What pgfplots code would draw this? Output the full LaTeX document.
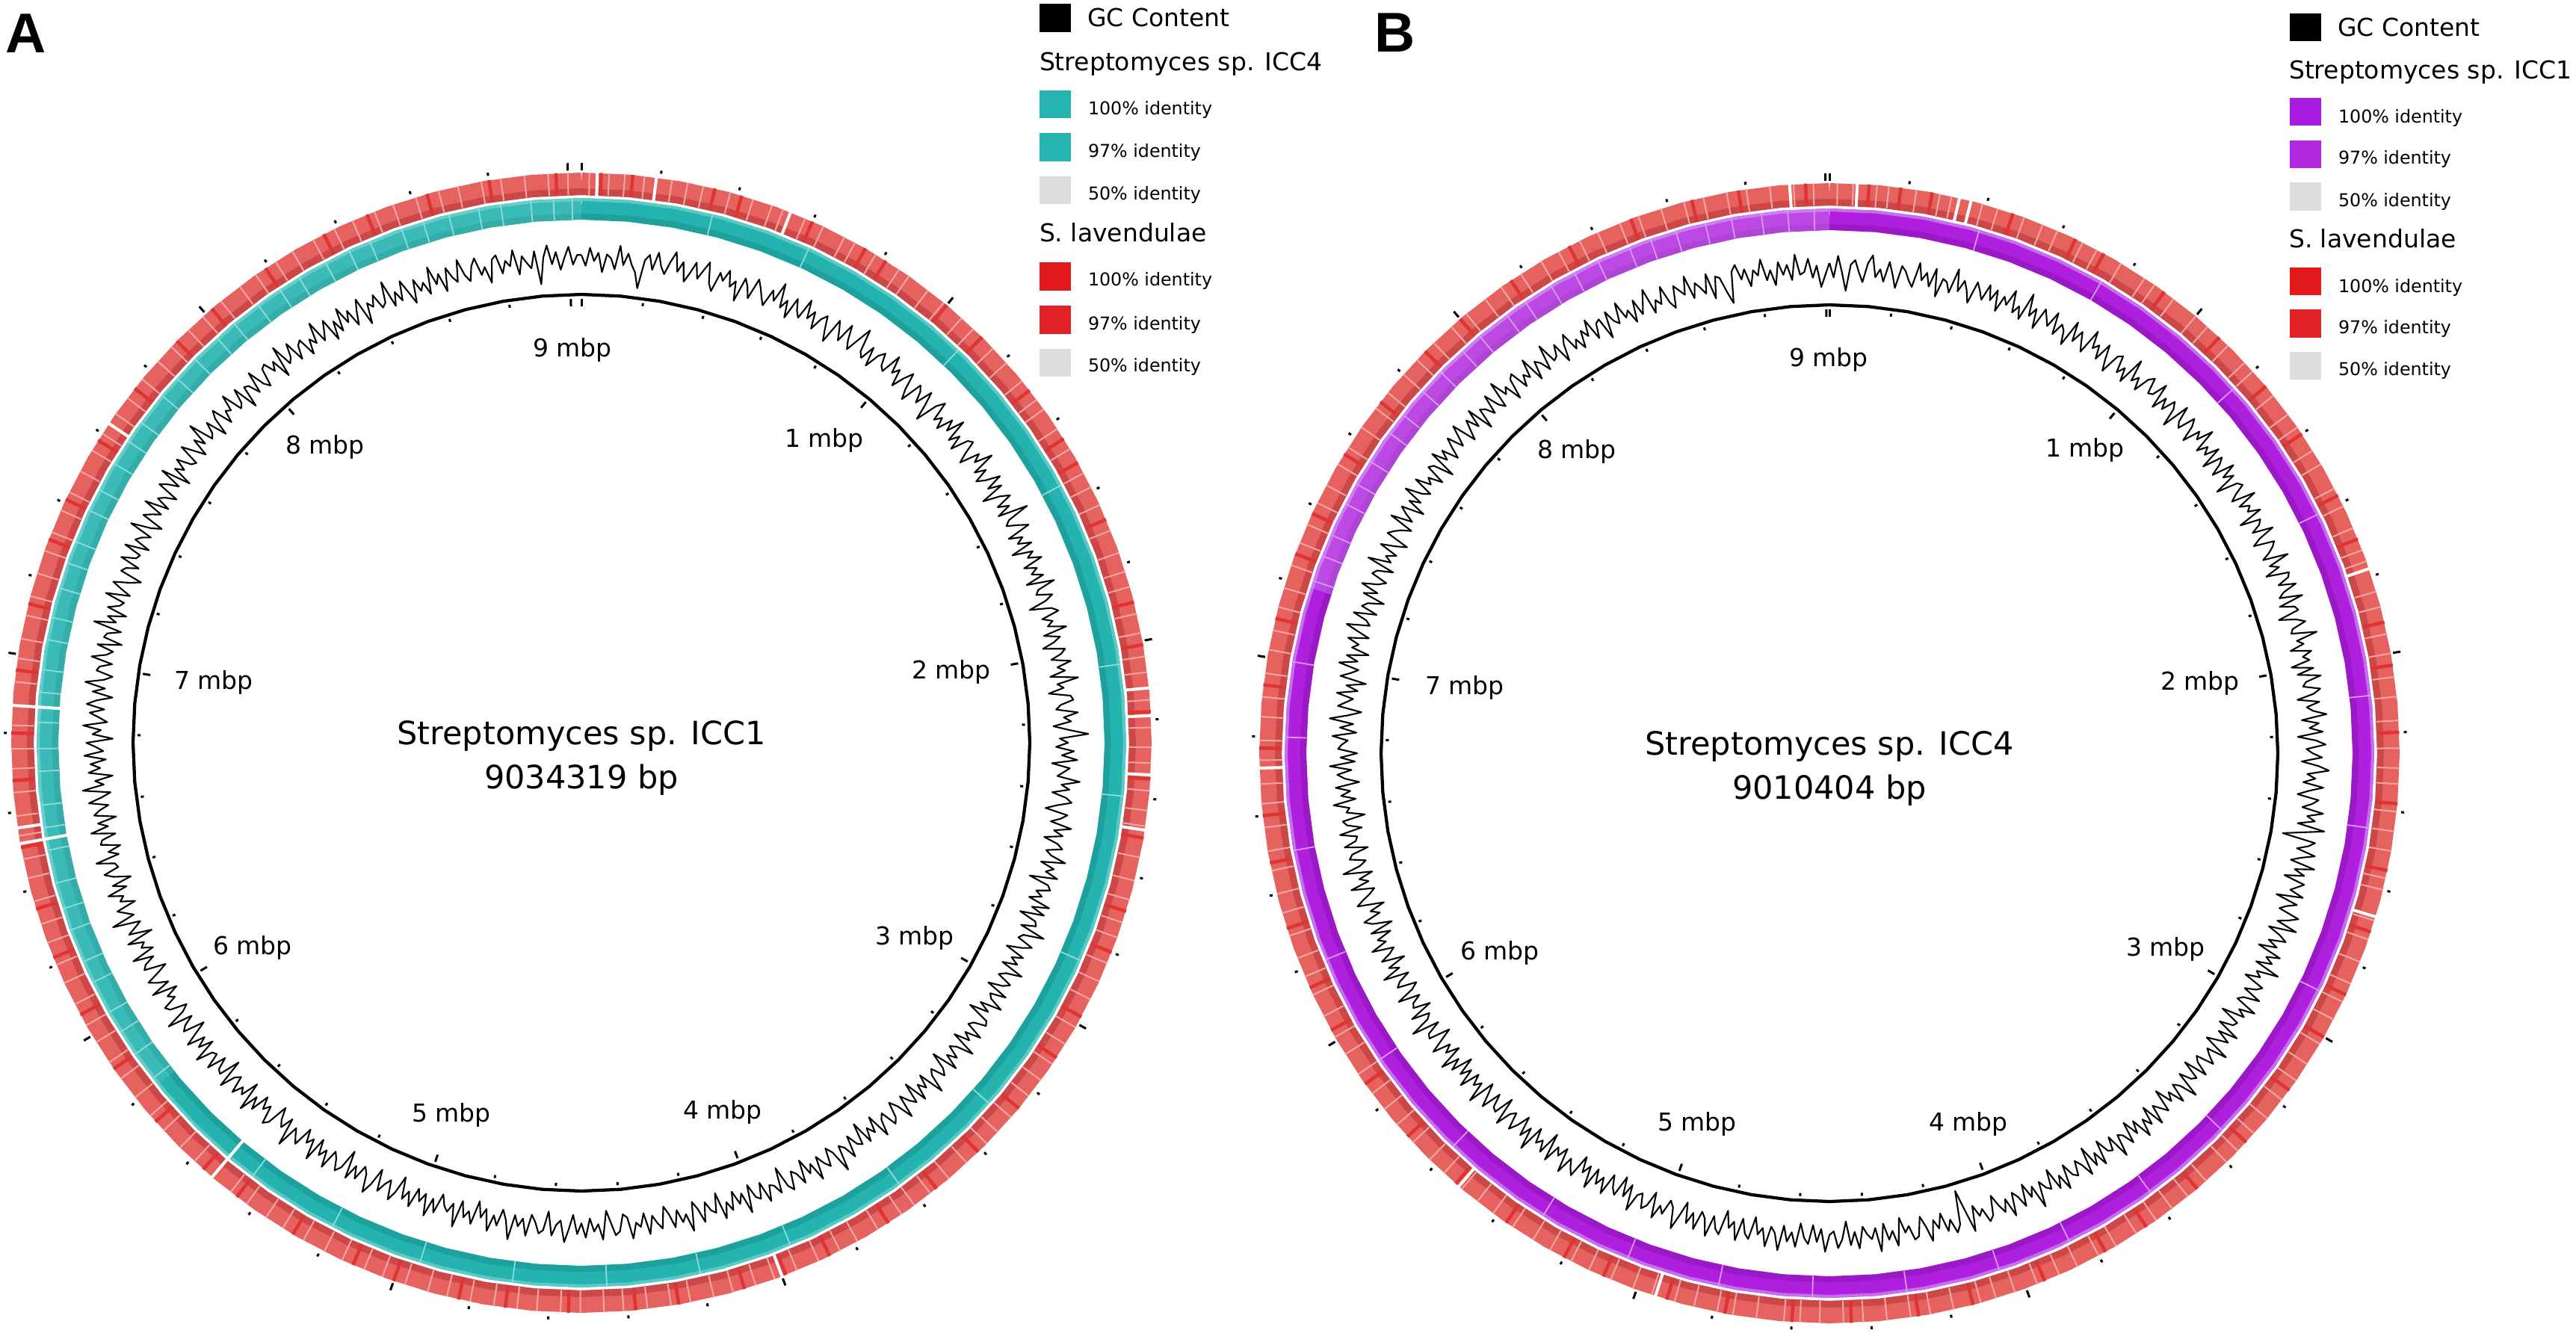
\documentclass[border=0pt]{standalone}
\usepackage{fontspec}
\setmainfont{DejaVu Sans}
\newfontfamily\letterfont{Liberation Sans}
\usepackage{pgfplots}
\usepackage{pgfplotstable}
\pgfplotsset{compat=1.18}

\definecolor{tealA}{HTML}{25B3AF}
\definecolor{tealD}{HTML}{1EA19D}
\definecolor{tealO}{HTML}{5CC9C5}
\definecolor{tealL}{HTML}{8FDDDA}
\definecolor{purA}{HTML}{AE1FDE}
\definecolor{purD}{HTML}{9A18C6}
\definecolor{purO}{HTML}{C76EEE}
\definecolor{purL}{HTML}{D99AF3}
\definecolor{redA}{HTML}{E6625F}
\definecolor{redB}{HTML}{CC4747}
\definecolor{redL}{HTML}{F4A6A5}
\definecolor{redK}{HTML}{DE3434}
\definecolor{legT}{HTML}{25B4B0}
\definecolor{legP1}{HTML}{AA1ADF}
\definecolor{legP2}{HTML}{B128DF}
\definecolor{legR1}{HTML}{E31A1C}
\definecolor{legR2}{HTML}{E22227}
\definecolor{legG}{HTML}{DDDDDD}

\newcommand\fhead{\fontsize{6.6pt}{8pt}\selectfont}
\newcommand\fentry{\fontsize{4.75pt}{6pt}\selectfont}
\newcommand\ftitle{\fontsize{8.6pt}{10pt}\selectfont}
\newcommand\fletter{\letterfont\bfseries\fontsize{15pt}{18pt}\selectfont}

\pgfplotstableread[row sep=\\]{a\\0\\5\\10\\15\\20\\25\\30\\35\\40\\45\\50\\55\\60\\65\\70\\75\\80\\85\\90\\95\\100\\105\\110\\115\\120\\125\\130\\135\\140\\145\\150\\155\\160\\165\\170\\175\\180\\185\\190\\195\\200\\205\\210\\215\\220\\225\\230\\235\\240\\245\\250\\255\\260\\265\\270\\275\\280\\285\\290\\295\\300\\305\\310\\315\\320\\325\\330\\335\\340\\345\\350\\355\\360\\}\angtab

\pgfplotstableread[row sep=\\]{p\\0.2\\0.4\\0.6\\0.8\\1.2\\1.4\\1.6\\1.8\\2.2\\2.4\\2.6\\2.8\\3.2\\3.4\\3.6\\3.8\\4.2\\4.4\\4.6\\4.8\\5.2\\5.4\\5.6\\5.8\\6.2\\6.4\\6.6\\6.8\\7.2\\7.4\\7.6\\7.8\\8.2\\8.4\\8.6\\8.8\\}\minort
\pgfplotstableread[row sep=\\]{p\\0\\1\\2\\3\\4\\5\\6\\7\\8\\9\\}\majort

% ---------- Panel A: GC content deviation, equal windows ----------
\pgfplotstableread[row sep=\\]{g\\
3\\-6\\9\\-2\\5\\-11\\4\\1\\-8\\12\\-4\\6\\-3\\-9\\-22\\2\\7\\-5\\10\\-1\\
-7\\4\\13\\-3\\6\\-10\\-2\\8\\-5\\3\\11\\-6\\-12\\5\\-1\\9\\-4\\2\\-14\\7\\
1\\-8\\10\\4\\-3\\-9\\6\\-2\\15\\-5\\3\\-11\\8\\-1\\-6\\12\\-3\\5\\-9\\2\\
7\\-4\\-13\\9\\2\\-6\\11\\-1\\-8\\4\\16\\-3\\-7\\6\\-10\\3\\8\\-2\\-5\\13\\
-1\\5\\-9\\2\\10\\-4\\-12\\7\\3\\-6\\9\\-2\\-15\\4\\11\\-5\\1\\-8\\6\\-3\\
12\\-7\\2\\-10\\5\\8\\-3\\-11\\6\\-1\\14\\-6\\3\\-9\\-2\\10\\-4\\7\\-13\\1\\
9\\-5\\4\\-8\\17\\-2\\-6\\3\\11\\-9\\2\\-4\\7\\-12\\5\\-1\\10\\-7\\3\\-3\\
6\\-10\\13\\-2\\-5\\8\\1\\-14\\4\\9\\-6\\2\\-3\\12\\-8\\5\\-1\\-11\\7\\3\\
-6\\10\\-2\\4\\-9\\14\\-4\\1\\-12\\6\\8\\-3\\-7\\11\\-1\\5\\-10\\3\\19\\-5\\
2\\-8\\7\\-3\\10\\-11\\4\\-1\\-6\\13\\-2\\5\\-9\\3\\8\\-4\\-13\\6\\1\\-7\\
11\\-3\\5\\-10\\2\\7\\-6\\-1\\12\\-8\\4\\-2\\9\\-14\\3\\6\\-5\\1\\-9\\10\\
-4\\8\\-12\\3\\5\\-7\\15\\-2\\-5\\9\\1\\-11\\6\\-3\\4\\-8\\12\\-1\\-6\\7\\
2\\-10\\9\\-4\\-1\\11\\-7\\3\\-13\\6\\8\\-2\\-5\\10\\-3\\4\\-9\\13\\-1\\-6\\
5\\-3\\10\\-12\\2\\7\\-5\\-1\\14\\-8\\3\\-4\\9\\-11\\6\\1\\-7\\12\\-2\\-9\\
4\\8\\-6\\-2\\11\\-10\\3\\-4\\7\\-13\\5\\2\\-8\\10\\-1\\-5\\16\\-3\\-9\\6\\
1\\-7\\12\\-4\\3\\-11\\8\\-2\\-6\\9\\4\\-14\\7\\-1\\-3\\10\\-8\\5\\2\\-10\\
13\\-5\\3\\-9\\6\\-2\\11\\-12\\4\\1\\-7\\9\\-3\\-10\\14\\-1\\5\\-6\\8\\-4\\
-11\\7\\2\\-5\\10\\-8\\3\\-1\\12\\-6\\-9\\5\\8\\-3\\-13\\11\\-2\\4\\-7\\9\\
-3\\6\\-10\\2\\13\\-5\\-1\\8\\-12\\4\\7\\-2\\-8\\10\\-4\\3\\-6\\15\\-1\\-9\\
5\\-3\\11\\-7\\1\\-12\\8\\-2\\4\\-9\\14\\-5\\3\\-1\\-10\\7\\-4\\12\\-6\\2\\
-8\\9\\-3\\5\\-13\\2\\10\\-6\\-1\\7\\-11\\4\\13\\-2\\-7\\6\\-4\\9\\-14\\3\\
8\\-1\\-6\\11\\-3\\4\\-9\\12\\-5\\1\\-10\\7\\2\\-4\\15\\-8\\3\\-2\\-12\\6\\
10\\-5\\1\\-9\\7\\-3\\13\\-11\\4\\-1\\8\\-6\\-2\\11\\-13\\5\\3\\-7\\9\\-4\\
-2\\12\\-8\\4\\-5\\10\\-1\\-12\\6\\2\\-7\\14\\-3\\-9\\5\\8\\-4\\1\\-10\\11\\
-6\\3\\9\\-2\\-11\\7\\4\\-5\\12\\-8\\1\\-3\\10\\-13\\6\\-1\\-7\\16\\-4\\2\\
8\\-9\\3\\-1\\11\\-6\\5\\-12\\2\\9\\-4\\-2\\13\\-7\\1\\-10\\6\\4\\-8\\12\\
-3\\5\\-11\\7\\2\\-6\\10\\-1\\-9\\14\\-4\\3\\-12\\8\\-2\\6\\-7\\11\\-5\\1\\
9\\-13\\4\\-3\\12\\-8\\-1\\7\\-5\\10\\2\\-11\\6\\-4\\13\\-2\\-9\\5\\3\\-7\\
11\\-1\\-6\\8\\-12\\4\\2\\-9\\15\\-3\\5\\-10\\7\\-2\\-5\\12\\-8\\1\\9\\-4\\
-13\\6\\3\\-7\\10\\-2\\-4\\11\\-9\\5\\1\\-6\\14\\-3\\-11\\8\\2\\-5\\12\\-8\\
4\\-1\\-10\\9\\3\\-6\\13\\-12\\5\\-2\\8\\-4\\-7\\11\\1\\-9\\6\\-3\\16\\-5\\
-2\\7\\-11\\4\\10\\-8\\2\\-1\\12\\-6\\-3\\9\\-13\\5\\3\\-7\\11\\-4\\-9\\6\\
8\\-2\\5\\-12\\14\\-5\\-1\\10\\-8\\3\\6\\-10\\2\\-4\\13\\-6\\1\\9\\-11\\4\\
-7\\12\\-3\\6\\-9\\2\\11\\-13\\4\\-1\\8\\-5\\-2\\15\\-8\\3\\-6\\10\\-1\\-12\\
7\\-4\\2\\-9\\13\\-3\\5\\-11\\8\\-1\\-6\\12\\-2\\-8\\4\\10\\-5\\1\\-13\\6\\
9\\-7\\3\\-2\\11\\-10\\5\\-1\\-6\\8\\-20\\2\\12\\-4\\6\\-9\\1\\10\\-5\\3\\
3\\}\gcA
\pgfplotstablegetrowsof{\gcA}\edef\nA{\pgfplotsretval}

\pgfplotstableread[row sep=\\]{p\\0.02\\0.07\\0.11\\0.16\\0.23\\0.27\\0.31\\0.38\\0.44\\0.49\\0.52\\0.58\\0.63\\0.69\\0.72\\0.78\\0.85\\0.88\\0.94\\0.99\\1.05\\1.09\\1.16\\1.21\\1.27\\1.33\\1.36\\1.42\\1.48\\1.55\\1.59\\1.64\\1.71\\1.77\\1.82\\1.86\\1.93\\1.98\\2.04\\2.08\\2.15\\2.22\\2.27\\2.31\\2.38\\2.43\\2.47\\2.55\\2.61\\2.66\\2.72\\2.76\\2.83\\2.88\\2.93\\3.01\\3.06\\3.12\\3.17\\3.22\\3.29\\3.34\\3.38\\3.45\\3.51\\3.57\\3.62\\3.66\\3.73\\3.79\\3.84\\3.9\\3.96\\4.02\\4.07\\4.13\\4.18\\4.24\\4.29\\4.35\\4.41\\4.46\\4.52\\4.57\\4.63\\4.68\\4.74\\4.8\\4.86\\4.91\\4.97\\5.03\\5.08\\5.14\\5.19\\5.25\\5.31\\5.36\\5.42\\5.47\\5.53\\5.59\\5.64\\5.7\\5.75\\5.81\\5.87\\5.92\\5.98\\6.03\\6.09\\6.15\\6.2\\6.26\\6.31\\6.37\\6.43\\6.48\\6.54\\6.59\\6.65\\6.71\\6.76\\6.82\\6.87\\6.93\\6.99\\7.04\\7.1\\7.15\\7.21\\7.27\\7.32\\7.38\\7.43\\7.49\\7.55\\7.6\\7.66\\7.71\\7.77\\7.83\\7.88\\7.94\\7.99\\8.05\\8.11\\8.16\\8.22\\8.27\\8.33\\8.39\\8.44\\8.5\\8.55\\8.61\\8.67\\8.72\\8.78\\8.83\\8.89\\8.95\\9.0\\}\redLA
\pgfplotstableread[row sep=\\]{p\\0.05\\0.13\\0.34\\0.41\\0.6\\0.75\\0.81\\1.0\\1.12\\1.3\\1.45\\1.52\\1.68\\1.9\\2.01\\2.18\\2.35\\2.5\\2.69\\2.8\\2.98\\3.1\\3.26\\3.41\\3.55\\3.7\\3.87\\3.99\\4.1\\4.27\\4.38\\4.55\\4.71\\4.83\\5.0\\5.11\\5.28\\5.45\\5.56\\5.73\\5.9\\6.06\\6.22\\6.35\\6.51\\6.68\\6.8\\6.96\\7.13\\7.3\\7.41\\7.58\\7.74\\7.9\\8.02\\8.19\\8.36\\8.48\\8.64\\8.8\\8.97\\}\redDA
\pgfplotstableread[row sep=\\]{p\\0.04\\0.19\\0.54\\2.12\\2.19\\2.34\\2.48\\4.0\\5.53\\6.52\\6.56\\6.87\\7.63\\}\gapRA
\pgfplotstableread[row sep=\\]{p\\5.53\\6.52\\6.87\\}\gapTA
\pgfplotstableread[row sep=\\]{p\\0.35\\0.62\\1.1\\1.55\\2.05\\2.4\\2.85\\3.3\\3.62\\3.95\\4.2\\4.45\\4.7\\4.95\\5.2\\5.45\\5.82\\5.9\\5.97\\6.03\\6.12\\6.18\\6.27\\6.33\\6.4\\6.49\\6.55\\6.61\\6.7\\6.76\\6.83\\6.91\\6.97\\7.05\\7.11\\7.19\\7.26\\7.32\\7.41\\7.47\\7.55\\7.62\\7.68\\7.77\\7.83\\7.9\\7.98\\8.04\\8.12\\8.19\\8.25\\8.33\\8.4\\8.46\\8.55\\8.61\\8.68\\8.76\\8.82\\8.9\\8.96\\9.01\\}\tealLA
\pgfplotstableread[row sep=\\]{p\\5.8\\5.9\\6\\6.1\\6.2\\6.3\\6.4\\6.5\\6.6\\6.7\\6.8\\6.9\\7\\7.1\\7.2\\7.3\\7.4\\7.5\\7.6\\7.7\\7.8\\7.9\\8\\8.1\\8.2\\8.3\\8.4\\8.5\\8.6\\8.7\\8.8\\8.9\\9\\9.034\\}\arcTA

% ---------- Panel B: GC content deviation ----------
\pgfplotstableread[row sep=\\]{g\\
5\\-7\\11\\-3\\-18\\4\\8\\-2\\-10\\6\\13\\-5\\2\\-8\\9\\-1\\-12\\7\\3\\-4\\
-9\\12\\-2\\5\\-6\\10\\-13\\3\\1\\-7\\14\\-4\\6\\-1\\-11\\8\\2\\-5\\9\\-3\\
7\\-10\\4\\-2\\12\\-6\\1\\-9\\15\\-3\\5\\-11\\8\\2\\-4\\10\\-8\\3\\-1\\-12\\
11\\-5\\6\\-2\\-9\\13\\-1\\4\\-7\\9\\-3\\-12\\5\\8\\-6\\1\\-10\\14\\-4\\2\\
-8\\6\\10\\-3\\-1\\12\\-9\\4\\-5\\7\\2\\-13\\11\\-2\\-6\\9\\3\\-10\\5\\-1\\
13\\-7\\2\\-4\\8\\-11\\6\\1\\-9\\10\\-3\\5\\-14\\4\\7\\-2\\-8\\12\\-5\\3\\
-1\\9\\-12\\5\\2\\-6\\11\\-3\\-10\\7\\4\\-1\\-8\\13\\-5\\2\\-11\\8\\6\\-4\\
10\\-2\\-7\\12\\-9\\3\\5\\-13\\1\\8\\-4\\-6\\15\\-3\\2\\-10\\7\\-1\\4\\-12\\
6\\-8\\11\\-2\\-5\\9\\3\\-11\\7\\-4\\1\\12\\-9\\5\\-3\\8\\-13\\2\\10\\-6\\
-1\\7\\-10\\4\\13\\-5\\2\\-8\\9\\-3\\-12\\6\\1\\-7\\11\\-2\\5\\-9\\14\\-4\\
-20\\8\\3\\-6\\10\\-1\\-9\\12\\-4\\5\\-11\\7\\2\\-3\\9\\-13\\6\\-2\\-7\\11\\
4\\-5\\13\\-10\\1\\8\\-6\\3\\-12\\9\\-2\\5\\-8\\14\\-4\\1\\-11\\7\\3\\-6\\
10\\-3\\-7\\12\\-1\\6\\-13\\4\\2\\-9\\11\\-5\\7\\-2\\-10\\13\\-4\\1\\8\\-7\\
-3\\9\\-11\\5\\2\\-8\\14\\-1\\-6\\10\\-4\\3\\-12\\7\\1\\-5\\11\\-9\\6\\-2\\
12\\-6\\4\\-10\\8\\-2\\-5\\13\\-8\\3\\1\\-11\\9\\-4\\6\\-13\\10\\-1\\-7\\5\\
2\\-9\\11\\-3\\7\\-12\\4\\1\\-6\\15\\-5\\3\\-10\\8\\-2\\-7\\12\\-4\\6\\-1\\
-11\\5\\9\\-3\\2\\-8\\13\\-6\\-24\\4\\10\\-2\\7\\-9\\3\\-5\\12\\-1\\-10\\6\\
8\\-4\\1\\-12\\11\\-2\\5\\-9\\14\\-6\\3\\-1\\-8\\10\\-4\\7\\-13\\2\\9\\-5\\
-2\\12\\-7\\4\\-10\\6\\1\\-11\\9\\-3\\5\\-8\\13\\-1\\-6\\11\\-4\\2\\-12\\7\\
3\\-9\\10\\-5\\1\\-13\\8\\4\\-6\\12\\-2\\-7\\9\\-4\\6\\-11\\2\\14\\-3\\-8\\
5\\-1\\11\\-10\\3\\7\\-5\\-2\\13\\-8\\4\\-12\\6\\1\\-9\\10\\-3\\5\\-7\\12\\
-6\\2\\-11\\9\\4\\-3\\12\\-8\\1\\-5\\10\\-13\\7\\-2\\3\\-9\\14\\-4\\6\\-10\\
1\\8\\-6\\-2\\11\\-12\\5\\3\\-8\\9\\-1\\-10\\13\\-4\\2\\-7\\10\\-5\\4\\-11\\
7\\-3\\12\\-9\\2\\-5\\10\\-1\\-12\\6\\4\\-8\\15\\-2\\-6\\9\\-11\\3\\1\\-7\\
11\\-4\\-10\\6\\2\\-8\\13\\-3\\5\\-11\\8\\-1\\-6\\12\\-2\\4\\-9\\7\\-13\\3\\
9\\-6\\1\\-12\\10\\4\\-3\\-8\\11\\-5\\2\\-10\\14\\-1\\-7\\6\\3\\-11\\8\\-2\\
-4\\10\\-9\\3\\6\\-13\\2\\-1\\12\\-7\\5\\-3\\9\\-11\\1\\7\\-5\\13\\-8\\4\\
-10\\6\\3\\-2\\11\\-9\\5\\-6\\14\\-1\\-12\\8\\2\\-4\\10\\-7\\3\\-13\\9\\1\\
-5\\12\\-3\\7\\-11\\4\\-1\\9\\-8\\2\\13\\-6\\-2\\10\\-9\\5\\1\\-12\\7\\-4\\
11\\-2\\-8\\6\\3\\-10\\14\\-5\\1\\-7\\9\\-3\\-12\\8\\4\\-1\\-9\\12\\-6\\2\\
8\\-11\\5\\-4\\13\\-1\\-7\\10\\-3\\2\\-10\\7\\4\\-13\\11\\-2\\6\\-8\\1\\9\\
-5\\3\\12\\-9\\-1\\7\\-4\\11\\-12\\5\\2\\-6\\10\\-3\\-8\\14\\-1\\4\\-11\\6\\
9\\-7\\2\\-3\\12\\-10\\5\\1\\-8\\13\\-4\\-2\\7\\-11\\3\\10\\-6\\1\\-9\\5\\
-2\\11\\-8\\4\\6\\-13\\9\\-1\\-5\\12\\-3\\2\\-10\\8\\-6\\3\\13\\-9\\1\\-4\\
10\\-5\\-11\\7\\2\\-3\\12\\-8\\4\\-1\\-7\\9\\-13\\5\\3\\-10\\-20\\6\\11\\-2\\
6\\-9\\4\\-1\\12\\-6\\2\\-11\\8\\-3\\5\\-8\\13\\-4\\-2\\9\\-7\\3\\-15\\-5\\
5\\}\gcB
\pgfplotstablegetrowsof{\gcB}\edef\nB{\pgfplotsretval}

\pgfplotstableread[row sep=\\]{p\\0.02\\0.06\\0.12\\0.15\\0.22\\0.28\\0.31\\0.39\\0.43\\0.5\\0.55\\0.59\\0.66\\0.7\\0.77\\0.84\\0.87\\0.93\\1.0\\1.04\\1.11\\1.17\\1.2\\1.28\\1.34\\1.38\\1.45\\1.49\\1.56\\1.61\\1.67\\1.73\\1.76\\1.84\\1.88\\1.95\\2.0\\2.06\\2.11\\2.17\\2.24\\2.29\\2.33\\2.4\\2.45\\2.5\\2.57\\2.6\\2.68\\2.73\\2.79\\2.85\\2.9\\2.95\\3.02\\3.08\\3.13\\3.19\\3.25\\3.3\\3.36\\3.4\\3.47\\3.53\\3.58\\3.63\\3.69\\3.75\\3.8\\3.86\\3.91\\3.97\\4.03\\4.08\\4.12\\4.19\\4.25\\4.3\\4.36\\4.42\\4.47\\4.53\\4.58\\4.62\\4.69\\4.75\\4.79\\4.85\\4.9\\4.96\\5.01\\5.07\\5.13\\5.18\\5.24\\5.29\\5.35\\5.41\\5.46\\5.51\\5.57\\5.62\\5.68\\5.74\\5.79\\5.84\\5.9\\5.96\\6.01\\6.07\\6.13\\6.18\\6.23\\6.29\\6.35\\6.4\\6.46\\6.51\\6.57\\6.63\\6.68\\6.74\\6.79\\6.85\\6.9\\6.96\\7.02\\7.07\\7.13\\7.18\\7.24\\7.3\\7.35\\7.41\\7.46\\7.52\\7.57\\7.63\\7.69\\7.74\\7.8\\7.85\\7.91\\7.97\\8.02\\8.08\\8.13\\8.19\\8.25\\8.3\\8.36\\8.41\\8.47\\8.52\\8.58\\8.64\\8.69\\8.75\\8.8\\8.86\\8.92\\8.97\\}\redLB
\pgfplotstableread[row sep=\\]{p\\0.1\\0.18\\0.26\\0.47\\0.64\\0.72\\0.9\\1.08\\1.25\\1.4\\1.58\\1.7\\1.92\\2.03\\2.2\\2.38\\2.55\\2.71\\2.88\\3.0\\3.16\\3.33\\3.5\\3.66\\3.78\\3.95\\4.14\\4.28\\4.45\\4.6\\4.77\\4.92\\5.09\\5.2\\5.37\\5.53\\5.7\\5.87\\6.03\\6.15\\6.31\\6.48\\6.6\\6.77\\6.93\\7.1\\7.27\\7.38\\7.55\\7.71\\7.88\\8.0\\8.16\\8.33\\8.5\\8.66\\8.78\\8.95\\}\redDB
\pgfplotstableread[row sep=\\]{p\\8.91\\0.07\\0.33\\0.36\\1.78\\2.67\\4.95\\5.52\\6.72\\}\gapRB
\pgfplotstableread[row sep=\\]{p\\0.4\\0.75\\1.2\\1.6\\2.1\\2.45\\2.9\\3.35\\3.6\\3.85\\4.05\\4.3\\4.55\\4.8\\5.05\\5.3\\5.6\\5.9\\6.2\\6.5\\6.8\\7.0\\7.22\\7.29\\7.35\\7.44\\7.5\\7.57\\7.66\\7.72\\7.8\\7.87\\7.95\\8.01\\8.1\\8.16\\8.24\\8.31\\8.38\\8.47\\8.53\\8.6\\8.68\\8.75\\8.83\\8.9\\8.97\\}\purLB
\pgfplotstableread[row sep=\\]{p\\7.2\\7.3\\7.4\\7.5\\7.6\\7.7\\7.8\\7.9\\8\\8.1\\8.2\\8.3\\8.4\\8.5\\8.6\\8.7\\8.8\\8.9\\9\\9.01\\}\arcPB

\newcommand{\ring}[5]{\addplot[draw=#4,line width=#5,line join=round] table[x index=0,y index=0,x expr={#1+#3*sin(\thisrow{a})},y expr={#2-#3*cos(\thisrow{a})}]{\angtab};}
\newcommand{\arcband}[7]{\addplot[#6,line width=#7,line join=round] table[x index=0,y index=0,x expr={#2+#5*sin(\thisrow{p}*360/#4)},y expr={#3-#5*cos(\thisrow{p}*360/#4)}]{#1};}
\newcommand{\radial}[7]{\addplot[#7,quiver={u={(#6-#5)*sin(\thisrow{p}*360/#4)},v={(#5-#6)*cos(\thisrow{p}*360/#4)}}] table[x index=0,y index=0,x expr={#2+#5*sin(\thisrow{p}*360/#4)},y expr={#3-#5*cos(\thisrow{p}*360/#4)}]{#1};}
\newcommand{\legsq}[3]{\addplot[only marks,draw=#3,fill=#3,mark=square*,mark size=4.1pt,mark options={draw=#3,fill=#3,yscale=0.9,line width=0pt}] coordinates {(#1,#2)};}

\begin{document}
\begin{tikzpicture}
\begin{axis}[width=689.4pt,height=358.2pt,scale only axis,
  xmin=0,xmax=3447,ymin=0,ymax=1791,y dir=reverse,hide axis,clip=false]

% ===================== PANEL A =====================
\ring{778}{994}{748}{redA}{6pt}
\ring{778}{994}{737.5}{redB}{1.8pt}
\radial{\redDA}{778}{994}{9.034319}{733}{763}{draw=redK,line width=0.9pt}
\radial{\redLA}{778}{994}{9.034319}{733}{763}{draw=redL,line width=0.4pt}
\radial{\gapRA}{778}{994}{9.034319}{731}{765}{draw=white,line width=0.8pt}
\ring{778}{994}{714.5}{tealA}{5.8pt}
\ring{778}{994}{704.5}{tealD}{1.6pt}
\ring{778}{994}{727}{tealO}{0.8pt}
\arcband{\arcTA}{778}{994}{9.034319}{714.5}{draw=tealL,opacity=0.2}{5.8pt}
\radial{\tealLA}{778}{994}{9.034319}{700}{729}{draw=tealL,line width=0.35pt}
\radial{\gapTA}{778}{994}{9.034319}{698}{731}{draw=white,line width=0.8pt}
\addplot[black,line width=0.42pt,line join=round] table[x index=0,y index=0,x expr={778+(648+1.6*\thisrow{g})*sin(\coordindex*360/(\nA-1))},y expr={994-(648+1.6*\thisrow{g})*cos(\coordindex*360/(\nA-1))}]{\gcA};
\ring{778}{994}{600}{black}{0.85pt}
\radial{\minort}{778}{994}{9.034319}{590}{594}{draw=black,line width=0.6pt}
\radial{\majort}{778}{994}{9.034319}{584}{594}{draw=black,line width=0.6pt}
\radial{\minort}{778}{994}{9.034319}{769}{773}{draw=black,line width=0.6pt}
\radial{\majort}{778}{994}{9.034319}{766}{776}{draw=black,line width=0.6pt}
\node[font=\fhead] at (axis cs:766,468) {9 mbp};
\node[font=\fhead] at (axis cs:1103,589) {1 mbp};
\node[font=\fhead] at (axis cs:1273,899) {2 mbp};
\node[font=\fhead] at (axis cs:1224,1255) {3 mbp};
\node[font=\fhead] at (axis cs:967,1488) {4 mbp};
\node[font=\fhead] at (axis cs:604,1492) {5 mbp};
\node[font=\fhead] at (axis cs:338,1268) {6 mbp};
\node[font=\fhead] at (axis cs:286,913) {7 mbp};
\node[font=\fhead] at (axis cs:435,598) {8 mbp};
\node[font=\ftitle] at (axis cs:778,985) {Streptomyces sp. ICC1};
\node[font=\ftitle] at (axis cs:778,1044) {9034319 bp};
\node[font=\fletter,anchor=base west,inner sep=0pt] at (axis cs:6,71) {A};
\legsq{1411.5}{24}{black}
\legsq{1411.5}{139.5}{legT}
\legsq{1411.5}{197}{legT}
\legsq{1411.5}{254.5}{legG}
\legsq{1411.5}{370}{legR1}
\legsq{1411.5}{428}{legR2}
\legsq{1411.5}{485.5}{legG}
\node[font=\fhead,anchor=base west,inner sep=0pt] at (axis cs:1454,36) {GC Content};
\node[font=\fhead,anchor=base west,inner sep=0pt] at (axis cs:1390,95) {Streptomyces sp. ICC4};
\node[font=\fentry,anchor=base west,inner sep=0pt] at (axis cs:1455,154) {100\% identity};
\node[font=\fentry,anchor=base west,inner sep=0pt] at (axis cs:1455,211) {97\% identity};
\node[font=\fentry,anchor=base west,inner sep=0pt] at (axis cs:1455,268) {50\% identity};
\node[font=\fhead,anchor=base west,inner sep=0pt] at (axis cs:1390,324) {S. lavendulae};
\node[font=\fentry,anchor=base west,inner sep=0pt] at (axis cs:1455,383) {100\% identity};
\node[font=\fentry,anchor=base west,inner sep=0pt] at (axis cs:1455,442) {97\% identity};
\node[font=\fentry,anchor=base west,inner sep=0pt] at (axis cs:1455,498) {50\% identity};

% ===================== PANEL B =====================
\ring{2448}{1008}{748}{redA}{6pt}
\ring{2448}{1008}{737.5}{redB}{1.8pt}
\radial{\redDB}{2448}{1008}{9.010404}{733}{763}{draw=redK,line width=0.9pt}
\radial{\redLB}{2448}{1008}{9.010404}{733}{763}{draw=redL,line width=0.4pt}
\radial{\gapRB}{2448}{1008}{9.010404}{731}{765}{draw=white,line width=0.8pt}
\ring{2448}{1008}{714.5}{purA}{5.8pt}
\ring{2448}{1008}{704.5}{purD}{1.6pt}
\ring{2448}{1008}{727}{purO}{0.8pt}
\arcband{\arcPB}{2448}{1008}{9.010404}{714.5}{draw=purL,opacity=0.35}{5.8pt}
\radial{\purLB}{2448}{1008}{9.010404}{700}{729}{draw=purL,line width=0.35pt}
\addplot[black,line width=0.42pt,line join=round] table[x index=0,y index=0,x expr={2448+(648+1.6*\thisrow{g})*sin(\coordindex*360/(\nB-1))},y expr={1008-(648+1.6*\thisrow{g})*cos(\coordindex*360/(\nB-1))}]{\gcB};
\ring{2448}{1008}{600}{black}{0.85pt}
\radial{\minort}{2448}{1008}{9.010404}{590}{594}{draw=black,line width=0.6pt}
\radial{\majort}{2448}{1008}{9.010404}{584}{594}{draw=black,line width=0.6pt}
\radial{\minort}{2448}{1008}{9.010404}{769}{773}{draw=black,line width=0.6pt}
\radial{\majort}{2448}{1008}{9.010404}{766}{776}{draw=black,line width=0.6pt}
\node[font=\fhead] at (axis cs:2447,481) {9 mbp};
\node[font=\fhead] at (axis cs:2790,602) {1 mbp};
\node[font=\fhead] at (axis cs:2944,914) {2 mbp};
\node[font=\fhead] at (axis cs:2898,1270) {3 mbp};
\node[font=\fhead] at (axis cs:2634,1504) {4 mbp};
\node[font=\fhead] at (axis cs:2271,1504) {5 mbp};
\node[font=\fhead] at (axis cs:2007,1275) {6 mbp};
\node[font=\fhead] at (axis cs:1960,920) {7 mbp};
\node[font=\fhead] at (axis cs:2110,604) {8 mbp};
\node[font=\ftitle] at (axis cs:2448,999) {Streptomyces sp. ICC4};
\node[font=\ftitle] at (axis cs:2448,1058) {9010404 bp};
\node[font=\fletter,anchor=base west,inner sep=0pt] at (axis cs:1838,70) {B};
\legsq{3084.5}{36.5}{black}
\legsq{3084.5}{149.5}{legP1}
\legsq{3084.5}{206.5}{legP2}
\legsq{3084.5}{263}{legG}
\legsq{3084.5}{376.5}{legR1}
\legsq{3084.5}{433}{legR2}
\legsq{3084.5}{489.5}{legG}
\node[font=\fhead,anchor=base west,inner sep=0pt] at (axis cs:3127,49) {GC Content};
\node[font=\fhead,anchor=base west,inner sep=0pt] at (axis cs:3062,106) {Streptomyces sp. ICC1};
\node[font=\fentry,anchor=base west,inner sep=0pt] at (axis cs:3128,165) {100\% identity};
\node[font=\fentry,anchor=base west,inner sep=0pt] at (axis cs:3128,220) {97\% identity};
\node[font=\fentry,anchor=base west,inner sep=0pt] at (axis cs:3128,277) {50\% identity};
\node[font=\fhead,anchor=base west,inner sep=0pt] at (axis cs:3062,332) {S. lavendulae};
\node[font=\fentry,anchor=base west,inner sep=0pt] at (axis cs:3128,392) {100\% identity};
\node[font=\fentry,anchor=base west,inner sep=0pt] at (axis cs:3128,447) {97\% identity};
\node[font=\fentry,anchor=base west,inner sep=0pt] at (axis cs:3128,503) {50\% identity};
\end{axis}
\pgfresetboundingbox
\path[use as bounding box] (current axis.south west) rectangle (current axis.north east);
\end{tikzpicture}
\end{document}
